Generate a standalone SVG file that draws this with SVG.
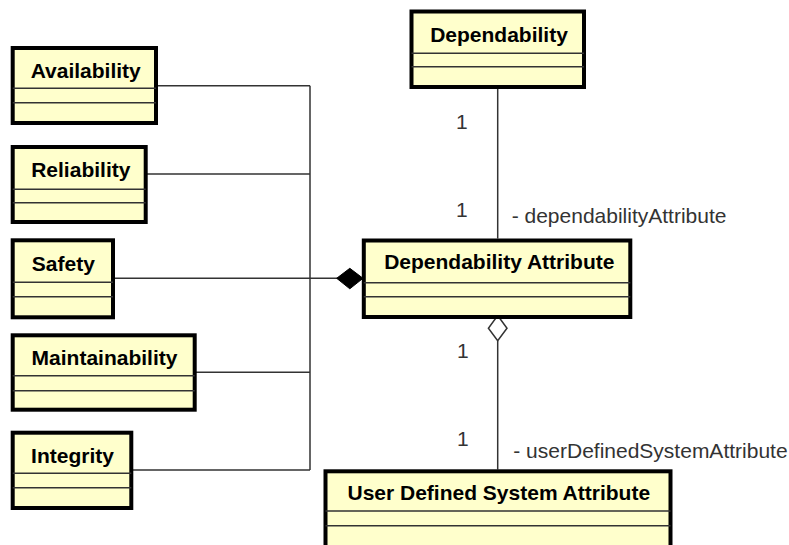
<svg xmlns="http://www.w3.org/2000/svg" width="789" height="545" viewBox="0 0 789 545">
<style>
.box{fill:#FFFFCC;stroke:#000;stroke-width:4}
.div{stroke:#333;stroke-width:1.5}
.name{font-family:"Liberation Sans",Arial,sans-serif;font-weight:bold;font-size:21px;fill:#000;text-anchor:middle}
.lbl{font-family:"Liberation Sans",Arial,sans-serif;font-size:21px;fill:#333}
.conn{fill:none;stroke:#333;stroke-width:1.5}
</style>
<rect width="789" height="545" fill="#fff"/>
<g id="connectors">
<path class="conn" d="M156 85.7H310M145.7 174H310M194.7 372.3H310M131.3 470H310M310 85.7V470"/>
<path class="conn" d="M113 278.3H338" stroke-width="2"/>
<polygon points="336.7,278.3 349.8,268.3 363,278.3 349.8,288.8" fill="#000" stroke="#000" stroke-width="1"/>
<path class="conn" d="M497.7 89V238.5"/>
<polygon points="497.7,315.5 507,328.2 497.7,340.8 488.4,328.2" fill="#fff" stroke="#333" stroke-width="1.5"/>
<path class="conn" d="M497.7 340.8V469.5"/>
<text class="lbl" x="456" y="129.3">1</text>
<text class="lbl" x="456" y="217.3">1</text>
<text class="lbl" x="511.7" y="223.3">- dependabilityAttribute</text>
<text class="lbl" x="457" y="358.3">1</text>
<text class="lbl" x="457" y="446">1</text>
<text class="lbl" x="513.3" y="458.3">- userDefinedSystemAttribute</text>
</g>
<g id="dependability">
<rect class="box" x="411.5" y="11.5" width="172.5" height="75.5"/>
<path class="div" d="M411.5 53.3H584M411.5 66.7H584"/>
<text class="name" x="499" y="41.7">Dependability</text>
</g>
<g id="availability">
<rect class="box" x="12.7" y="48" width="143.3" height="75"/>
<path class="div" d="M12.7 88.3H156M12.7 102.7H156"/>
<text class="name" x="85.7" y="78.3">Availability</text>
</g>
<g id="reliability">
<rect class="box" x="12.7" y="147" width="133" height="75"/>
<path class="div" d="M12.7 189.3H145.7M12.7 202.7H145.7"/>
<text class="name" x="80.8" y="176.7">Reliability</text>
</g>
<g id="safety">
<rect class="box" x="12.7" y="240.3" width="100.3" height="77"/>
<path class="div" d="M12.7 282.3H113M12.7 296.7H113"/>
<text class="name" x="63.3" y="270.7">Safety</text>
</g>
<g id="maintainability">
<rect class="box" x="12.7" y="335.3" width="182" height="74.4"/>
<path class="div" d="M12.7 375.7H194.7M12.7 390.7H194.7"/>
<text class="name" x="104.5" y="365">Maintainability</text>
</g>
<g id="integrity">
<rect class="box" x="12.7" y="432.7" width="118.6" height="75.3"/>
<path class="div" d="M12.7 473.3H131.3M12.7 487.7H131.3"/>
<text class="name" x="72.5" y="463.3">Integrity</text>
</g>
<g id="dependability-attribute">
<rect class="box" x="363.8" y="240.5" width="266.5" height="76.5"/>
<path class="div" d="M363.8 282.7H630.3M363.8 296.7H630.3"/>
<text class="name" x="499.3" y="269.3">Dependability Attribute</text>
</g>
<g id="user-defined-system-attribute">
<rect class="box" x="325.5" y="471.3" width="345" height="90"/>
<path class="div" d="M325.5 511H670.5M325.5 525.7H670.5"/>
<text class="name" x="498.8" y="500">User Defined System Attribute</text>
</g>
</svg>
